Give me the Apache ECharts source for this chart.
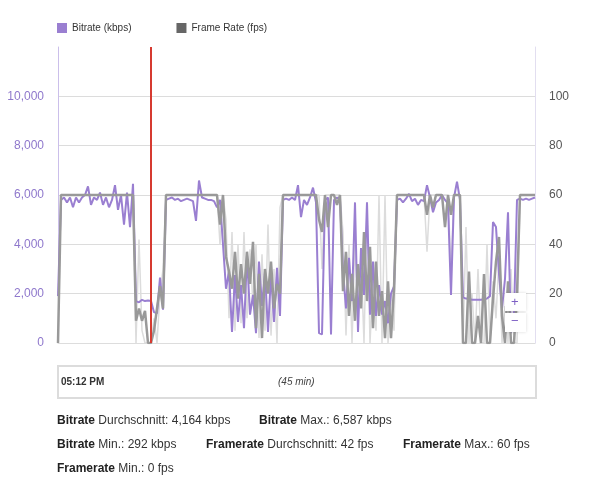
<!DOCTYPE html>
<html>
<head>
<meta charset="utf-8">
<script src="https://cdn.jsdelivr.net/npm/echarts@6/dist/echarts.min.js"></script>
<style>
  html, body { margin: 0; padding: 0; background: #fff; }
  #chart { width: 600px; height: 501px; }
</style>
</head>
<body>
<div id="chart"></div>
<script>
// one sample every ~17 s over the 45 min session (160 samples)
const bitrate = [
  1900, 5800, 5900, 5700, 5900, 5500, 5900, 5700, 5900, 6000,
  6350, 5600, 5900, 5800, 6100, 5600, 5900, 5500, 5800, 6400,
  5400, 6000, 4800, 6100, 4700, 6450, 1700, 1650, 1750, 1700,
  1720, 1700, 1250, 1200, 2650, 1350, 5800, 5850, 5900, 5800,
  5850, 5750, 5800, 5850, 5800, 5750, 4950, 6587, 5900, 5850,
  5800, 5800, 5750, 5500, 5800, 4000, 2200, 2900, 450, 2750,
  850, 2350, 600, 3550, 1150, 1950, 400, 3300, 1500, 2900,
  450, 2800, 850, 3050, 1100, 5800, 5850, 5800, 5900, 5800,
  6400, 5100, 5800, 5600, 5900, 6300, 5700, 400, 350, 5800,
  5900, 350, 5800, 5900, 5800, 2900, 1400, 3450, 1700, 5700,
  450, 3850, 1950, 5700, 1150, 3300, 1100, 2350, 1150, 1700,
  800, 2000, 2300, 5800, 5850, 5700, 5850, 6050, 5750, 5850,
  5600, 5800, 5750, 6400, 5900, 5300, 5700, 5800, 6000, 5800,
  5650, 1950, 5900, 6540, 5800, 1850, 1800, 1780, 1750, 1750,
  1750, 1750, 1770, 1800, 1900, 4900, 4700, 2800, 1400, 2600,
  5300, 400, 1200, 5800, 5850, 5800, 5850, 5800, 5850, 5900
]
const frameRate = [
  0, 60, 60, 60, 60, 60, 60, 60, 60, 60,
  60, 60, 60, 60, 60, 60, 60, 60, 60, 60,
  60, 60, 60, 60, 60, 60, 9, 14, 9, 13,
  0, 0, 5, 14, 23, 14, 60, 60, 60, 60,
  60, 60, 60, 60, 60, 60, 60, 60, 60, 60,
  60, 60, 60, 60, 48, 60, 35, 29, 22, 37,
  18, 32, 20, 37, 24, 41, 6, 28, 2, 30,
  20, 33, 14, 24, 20, 60, 60, 60, 60, 60,
  60, 60, 60, 60, 60, 60, 60, 50, 45, 60,
  47, 60, 60, 56, 60, 21, 37, 11, 28, 9,
  32, 14, 45, 17, 39, 6, 33, 11, 21, 2,
  25, 2, 22, 60, 60, 60, 60, 60, 60, 60,
  60, 60, 60, 52, 60, 55, 60, 60, 60, 47,
  60, 52, 60, 60, 60, 0, 0, 29, 0, 0,
  11, 0, 28, 0, 0, 18, 33, 43, 11, 0,
  25, 0, 0, 20, 60, 60, 60, 60, 60, 60
]
// raw (unsmoothed) frame rate, drawn light behind
const frameRateRaw = [
  0, 60, 60, 60, 60, 60, 60, 60, 60, 60,
  60, 60, 60, 60, 60, 60, 60, 60, 60, 60,
  60, 60, 60, 60, 60, 60, 0, 42, 5, 0,
  0, 0, 10, 0, 20, 30, 60, 60, 60, 60,
  60, 60, 60, 60, 60, 60, 60, 60, 60, 60,
  60, 60, 60, 60, 40, 60, 50, 10, 45, 5,
  40, 8, 45, 10, 38, 15, 40, 2, 36, 5,
  48, 3, 30, 0, 55, 60, 60, 60, 60, 60,
  60, 60, 60, 60, 60, 60, 60, 60, 30, 60,
  60, 60, 60, 60, 60, 45, 3, 40, 0, 42,
  10, 35, 0, 55, 0, 25, 5, 60, 0, 60,
  0, 20, 5, 60, 60, 60, 60, 60, 60, 60,
  60, 60, 60, 37, 60, 60, 60, 60, 60, 60,
  60, 30, 60, 60, 60, 0, 47, 0, 20, 0,
  30, 0, 0, 40, 0, 25, 10, 35, 0, 15,
  0, 30, 0, 0, 60, 60, 60, 60, 60, 60
]
const samples = bitrate.map((_, i) => i)
const markerIndex = 31            // red "now" marker
const leftTicks = [0, 2000, 4000, 6000, 8000, 10000]
const rightTicks = [0, 20, 40, 60, 80, 100]
const startLabel = '05:12 PM'
const durationLabel = '(45 min)'
const stats = [
  [['Bitrate', ' Durchschnitt: 4,164 kbps'], ['Bitrate', ' Max.: 6,587 kbps']],
  [['Bitrate', ' Min.: 292 kbps'], ['Framerate', ' Durchschnitt: 42 fps'], ['Framerate', ' Max.: 60 fps']],
  [['Framerate', ' Min.: 0 fps']],
]
const statX = [[57, 259], [57, 206, 403], [57]]

const purple = '#9a7fd1', grey = '#999999', lightGrey = '#dcdcdc'
const font = 'Liberation Sans, Arial, sans-serif'
const gridCol = '#dcdcdc'

const chart = echarts.init(document.getElementById('chart'), null, { renderer: 'canvas' })

const statGraphics = []
stats.forEach((row, r) => row.forEach((s, c) => statGraphics.push({
  type: 'text', left: statX[r][c], top: 415 + r * 24,
  style: { text: '{b|' + s[0] + '}' + s[1], fill: '#333', font: '12px ' + font,
    rich: { b: { fontWeight: 'bold', fill: '#222', fontSize: 12, fontFamily: font } } },
})))

chart.setOption({
  animation: false,
  textStyle: { fontFamily: font },
  grid: { left: 58, right: 65, top: 47, bottom: 158 },
  legend: {
    left: 52, top: 18, itemWidth: 10, itemHeight: 10, itemGap: 45, icon: 'rect',
    textStyle: { color: '#333', fontSize: 10, fontFamily: font },
    data: [
      { name: 'Bitrate (kbps)', itemStyle: { color: purple } },
      { name: 'Frame Rate (fps)', itemStyle: { color: '#666' } },
    ],
  },
  xAxis: {
    type: 'category', data: samples, boundaryGap: false,
    axisLine: { lineStyle: { color: '#ddd' } }, axisTick: { show: false }, axisLabel: { show: false },
  },
  yAxis: [
    {
      type: 'value', min: 0, max: 12000, interval: 2000,
      axisLine: { show: true, lineStyle: { color: '#cbbfea' } }, axisTick: { show: false },
      axisLabel: { color: '#8f78cc', fontSize: 12, margin: 14, showMaxLabel: false,
        formatter: v => leftTicks.includes(v) ? v.toLocaleString('en-US') : '' },
      splitLine: { lineStyle: { color: [gridCol, gridCol, gridCol, gridCol, gridCol, gridCol, 'rgba(0,0,0,0)'] } },
    },
    {
      type: 'value', min: 0, max: 120, interval: 20, position: 'right',
      axisLine: { show: true, lineStyle: { color: '#e2def0' } }, axisTick: { show: false },
      axisLabel: { color: '#555', fontSize: 12, margin: 14, showMaxLabel: false,
        formatter: v => rightTicks.includes(v) ? String(v) : '' },
      splitLine: { show: false },
    },
  ],
  series: [
    { name: 'raw', type: 'line', yAxisIndex: 1, data: frameRateRaw, showSymbol: false,
      lineStyle: { color: lightGrey, width: 1.5 }, itemStyle: { color: lightGrey }, z: 1 },
    { name: 'Bitrate (kbps)', type: 'line', yAxisIndex: 0, data: bitrate, showSymbol: false,
      lineStyle: { color: purple, width: 2 }, itemStyle: { color: purple }, z: 2,
      markLine: { silent: true, symbol: 'none', label: { show: false },
        lineStyle: { color: '#d63a30', width: 2, type: 'solid' }, data: [{ xAxis: markerIndex }] } },
    { name: 'Frame Rate (fps)', type: 'line', yAxisIndex: 1, data: frameRate, showSymbol: false,
      lineStyle: { color: grey, width: 2.5 }, itemStyle: { color: grey }, z: 3 },
  ],
  graphic: [
    { type: 'rect', shape: { x: 58, y: 366, width: 478, height: 32 },
      style: { fill: '#fff', stroke: '#dcdcdc', lineWidth: 2 } },
    { type: 'text', left: 61, top: 377, style: { text: startLabel, fill: '#333', font: 'bold 10px ' + font } },
    { type: 'text', left: 278, top: 377, style: { text: durationLabel, fill: '#444', font: 'italic 10px ' + font } },
    { type: 'rect', shape: { x: 505, y: 293, width: 21, height: 18 },
      style: { fill: '#fff', shadowBlur: 3, shadowColor: 'rgba(0,0,0,0.15)' }, z: 10 },
    { type: 'rect', shape: { x: 505, y: 313, width: 21, height: 19 },
      style: { fill: '#fff', shadowBlur: 3, shadowColor: 'rgba(0,0,0,0.15)' }, z: 10 },
    { type: 'text', left: 511, top: 296, z: 11, style: { text: '+', fill: '#7d5fc4', font: '13px ' + font } },
    { type: 'text', left: 511, top: 315, z: 11, style: { text: '−', fill: '#7d5fc4', font: '13px ' + font } },
    ...statGraphics,
  ],
})
</script>
</body>
</html>
